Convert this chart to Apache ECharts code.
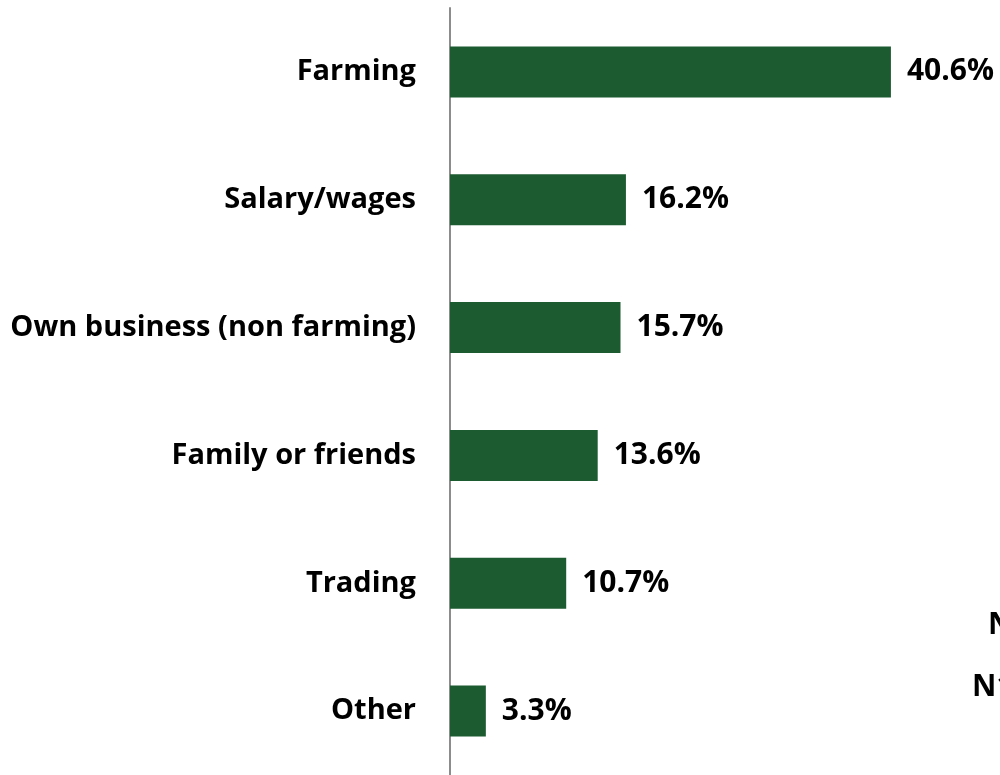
<!DOCTYPE html>
<html>
<head>
<meta charset="utf-8">
<script src="https://cdn.jsdelivr.net/npm/echarts@6/dist/echarts.min.js"></script>
<style>
  html, body { margin: 0; padding: 0; background: #fff; }
  #container { width: 1000px; height: 775px; }
</style>
</head>
<body>
<div id="container"></div>
<script>
let categories = ['Farming', 'Salary/wages', 'Own business (non farming)', 'Family or friends', 'Trading', 'Other'];
let shares = [40.6, 16.2, 15.7, 13.6, 10.7, 3.3];
let noteTexts = ['N', 'N1'];

let font = '"Open Sans", "Noto Sans", sans-serif';

let dom = document.getElementById('container');
let chart = echarts.init(dom);
chart.setOption({
    animation: false,
    grid: {
        left: 450,
        top: 8,
        width: 543,
        height: 772
    },
    xAxis: {
        type: 'value',
        min: 0,
        max: 50,
        show: false
    },
    yAxis: {
        type: 'category',
        inverse: true,
        data: categories,
        axisLine: { show: true, lineStyle: { color: '#8c8c8c', width: 2 } },
        axisTick: { show: false },
        axisLabel: {
            margin: 34,
            color: '#000',
            fontSize: 29,
            fontWeight: 'bold',
            fontFamily: font
        }
    },
    series: [{
        type: 'bar',
        data: shares,
        barWidth: 51,
        itemStyle: { color: '#1c5a30' },
        label: {
            show: true,
            position: 'right',
            distance: 16,
            formatter: '{c}%',
            color: '#000',
            fontSize: 30,
            fontWeight: 'bold',
            fontFamily: font
        }
    }],
    graphic: [
        { type: 'text', left: 988, top: 610, style: { text: noteTexts[0], fontSize: 30, fontWeight: 'bold', fontFamily: font, fill: '#000' } },
        { type: 'text', left: 972, top: 672, style: { text: noteTexts[1], fontSize: 30, fontWeight: 'bold', fontFamily: font, fill: '#000' } }
    ]
});
</script>
</body>
</html>
